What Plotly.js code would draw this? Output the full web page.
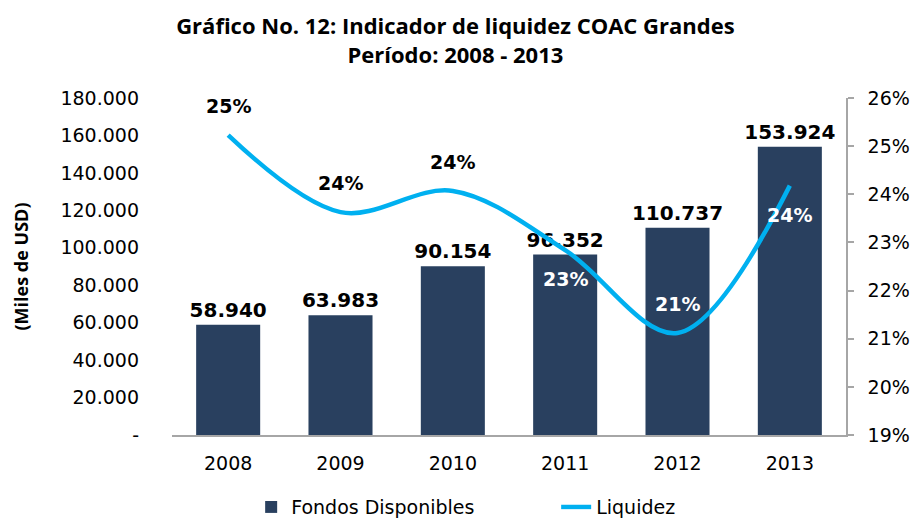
<!DOCTYPE html>
<html>
<head>
<meta charset="utf-8">
<script src="https://cdn.plot.ly/plotly-3.0.1.min.js"></script>
<style>html,body{margin:0;padding:0;background:#fff;}#chart{width:920px;height:519px;}</style>
</head>
<body>
<div id="chart"></div>
<script>
// ---- data ----
const years = ['2008', '2009', '2010', '2011', '2012', '2013'];
const fondos = [58940, 63983, 90154, 96352, 110737, 153924];
const liquidez = [0.2523, 0.2363, 0.2407, 0.2284, 0.2112, 0.2418];
const liqLabels = ['25%', '24%', '24%', '23%', '21%', '24%'];
const leftTickVals = [0, 20000, 40000, 60000, 80000, 100000, 120000, 140000, 160000, 180000];
const leftTickText = ['-', '20.000', '40.000', '60.000', '80.000', '100.000', '120.000', '140.000', '160.000', '180.000'];

// label placement (style)
const labelAbove = [true, true, true, false, true, false];
const labelColor = ['#000', '#000', '#000', '#fff', '#fff', '#fff'];

const barColor = '#29405F';
const lineColor = '#00B0F0';
const axisGray = '#A6A6A6';
const tickFont = {family: 'DejaVu Sans', size: 19, color: '#000'};

const fmt = v => v.toString().replace(/\B(?=(\d{3})+(?!\d))/g, '.');

const traces = [
  {
    type: 'bar', name: 'Fondos Disponibles', x: years, y: fondos,
    marker: {color: barColor},
    text: fondos.map(v => '<b>' + fmt(v) + '</b>'), textposition: 'outside',
    cliponaxis: false, constraintext: 'none',
    textfont: {family: 'DejaVu Sans', size: 20, color: '#000'}
  },
  {
    type: 'scatter', mode: 'lines', name: 'Liquidez', x: years, y: liquidez,
    yaxis: 'y2', line: {color: lineColor, width: 4.5, shape: 'spline', smoothing: 1}
  }
];

const annotations = years.map((yr, i) => ({
  x: i, y: liquidez[i], xref: 'x', yref: 'y2',
  text: '<b>' + liqLabels[i] + '</b>', showarrow: false,
  yshift: labelAbove[i] ? 29 : -29,
  font: {family: 'DejaVu Sans', size: 19, color: labelColor[i]}
}));

const layout = {
  width: 920, height: 519,
  margin: {l: 172, r: 74, t: 98, b: 84},
  paper_bgcolor: '#fff', plot_bgcolor: '#fff',
  title: {
    text: '<b>Gráfico No. 12: Indicador de liquidez COAC Grandes<br>Período: 2008 - 2013</b>',
    font: {family: 'Open Sans', size: 22, color: '#000'},
    x: 0.495, xanchor: 'center', y: 0.934, yanchor: 'middle', yref: 'container'
  },
  bargap: 0.43,
  showlegend: true,
  legend: {
    orientation: 'h', xref: 'container', yref: 'container',
    x: 0.273, xanchor: 'left', y: 0.023, yanchor: 'middle',
    entrywidth: 260, entrywidthmode: 'pixels',
    font: {family: 'DejaVu Sans', size: 19, color: '#000'}
  },
  xaxis: {
    type: 'category', range: [-0.5, 5.5], showline: true, linecolor: axisGray, linewidth: 1.5,
    ticks: '', tickfont: tickFont, showgrid: false, zeroline: false, ticklabelstandoff: 10
  },
  yaxis: {
    range: [0, 180000], tickvals: leftTickVals, ticktext: leftTickText,
    showgrid: false, zeroline: false, showline: false, ticks: '',
    tickfont: tickFont, ticklabelstandoff: 32,
    title: {text: '<b>(Miles de USD)</b>', font: {family: 'Open Sans', size: 18, color: '#000'}, standoff: 27}
  },
  yaxis2: {
    overlaying: 'y', side: 'right', range: [0.19, 0.26], dtick: 0.01, tick0: 0.19,
    tickformat: '.0%', showgrid: false, zeroline: false,
    showline: true, linecolor: axisGray, linewidth: 1.5,
    ticks: 'outside', ticklen: 6, tickcolor: axisGray, tickwidth: 1.5,
    tickfont: tickFont, ticklabelstandoff: 10
  },
  annotations: annotations,
  separators: ',.'
};

Plotly.newPlot('chart', traces, layout, {displayModeBar: false});
</script>
</body>
</html>
